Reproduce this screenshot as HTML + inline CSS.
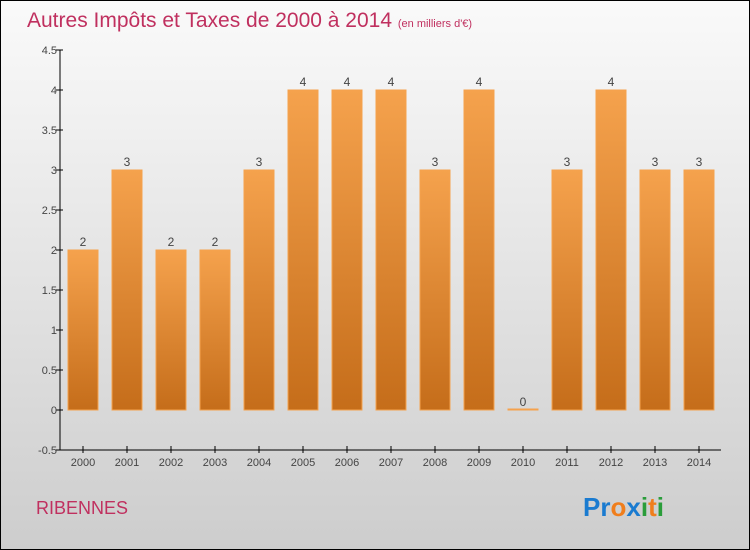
<!DOCTYPE html>
<html><head><meta charset="utf-8"><style>
body{margin:0}
svg{display:block;font-family:"Liberation Sans",sans-serif}
</style></head><body>
<svg width="750" height="550">
<defs>
<linearGradient id="bg" x1="0" y1="0" x2="0" y2="1"><stop offset="0" stop-color="#fafafa"/><stop offset="1" stop-color="#cdcdcd"/></linearGradient>
<linearGradient id="bar" x1="0" y1="0" x2="0" y2="1"><stop offset="0" stop-color="#f5a24d"/><stop offset="1" stop-color="#c56d1a"/></linearGradient>
</defs>
<rect x="0.5" y="0.5" width="749" height="549" fill="url(#bg)" stroke="#000"/>
<text x="27" y="27" font-size="21" fill="#c0305f">Autres Impôts et Taxes de 2000 à 2014 <tspan font-size="11">(en milliers d'€)</tspan></text>
<g id="plot"></g>
<text x="36" y="514" font-size="18" fill="#c0305f">RIBENNES</text>
<text x="583" y="516" font-size="26" font-weight="bold"><tspan fill="#1a7bd0">Pr</tspan><tspan fill="#f07e1c">o</tspan><tspan fill="#1a7bd0">x</tspan><tspan fill="#2a9d3a">i</tspan><tspan fill="#f07e1c">t</tspan><tspan fill="#2a9d3a">i</tspan></text>
</svg>
<script>
const categories=["2000","2001","2002","2003","2004","2005","2006","2007","2008","2009","2010","2011","2012","2013","2014"];
const values=[2,3,2,2,3,4,4,4,3,4,0,3,4,3,3];
const yTicks=[-0.5,0,0.5,1,1.5,2,2.5,3,3.5,4,4.5];
const NS="http://www.w3.org/2000/svg";
const g=document.getElementById('plot');
const y=v=>410-v*80;
const x=i=>83+i*44;
function mk(t,a,txt){const e=document.createElementNS(NS,t);for(const k in a)e.setAttribute(k,a[k]);if(txt!=null)e.textContent=txt;g.appendChild(e);return e;}
let ax=mk('line',{x1:60,y1:50,x2:60,y2:450,stroke:'#000'});


let bx=mk('line',{x1:60,y1:450,x2:721,y2:450,stroke:'#000'});


yTicks.forEach(t=>{
  const l=mk('line',{x1:56,y1:y(t),x2:63,y2:y(t),stroke:'#000'});
  
  
  const tx=mk('text',{x:57,y:y(t)+4,'font-size':11,fill:'#444','text-anchor':'end'},String(t));
  
  
});
categories.forEach((c,i)=>{
  const l=mk('line',{x1:x(i),y1:446,x2:x(i),y2:453,stroke:'#000'});
  
  
  const tx=mk('text',{x:x(i),y:466,'font-size':11,fill:'#444','text-anchor':'middle'},c);
  
  
  const v=values[i];
  const h=Math.max(1,y(0)-y(v));
  const b=mk('rect',{x:x(i)-15,y:y(0)-h,width:30,height:h,fill:'url(#bar)',stroke:'#f5a24d','stroke-width':1});
  
  
  const vl=mk('text',{x:x(i),y:y(v)-4,'font-size':12,fill:'#444','text-anchor':'middle'},String(v));
  
  
});
</script>
</body></html>
